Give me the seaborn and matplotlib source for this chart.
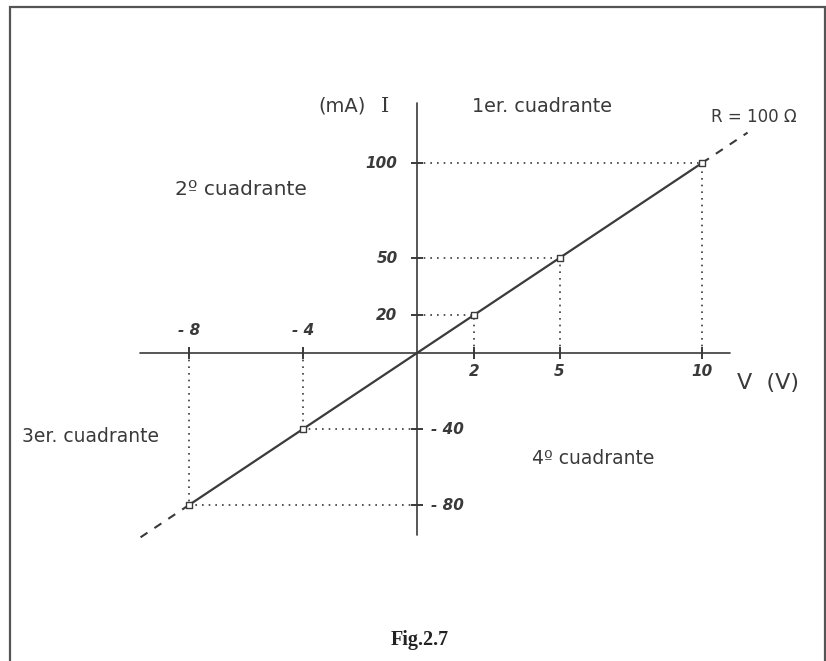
import numpy as np
import pandas as pd
import matplotlib
matplotlib.use("Agg")
import matplotlib.pyplot as plt
from matplotlib.patches import Rectangle
import seaborn as sns

# data: points on the V-I line for R = 100 ohm
volts = [-8, -4, 2, 5, 10]
milliamps = [-80, -40, 20, 50, 100]
# dashed extensions beyond the measured range
ext_low_v = [-9.7, -8]
ext_low_i = [-97, -80]
ext_high_v = [10, 11.6]
ext_high_i = [100, 116]

x_ticks = [-8, -4, 2, 5, 10]
x_labels = ["- 8", "- 4", "2", "5", "10"]
y_ticks = [100, 50, 20, -40, -80]
y_labels = ["100", "50", "20", "- 40", "- 80"]

df = pd.DataFrame({"V": volts, "I": milliamps})

sns.set_style("white")
plt.rcParams["font.family"] = ["DejaVu Sans"]

ink = "#3a3a3a"
fig = plt.figure(figsize=(8.26, 6.61), dpi=100)
ax = fig.add_axes([0, 0, 1, 1])
# pixel mapping: x = 417 + 28.5*V, y = 353 - 1.9*I
ax.set_xlim(-417 / 28.5, (826 - 417) / 28.5)
ax.set_ylim(-(661 - 353) / 1.9, 353 / 1.9)
ax.axis("off")

# axes
ax.plot([-9.72, 10.98], [0, 0], color=ink, lw=1.2)
ax.plot([0, 0], [-95.8, 131.6], color=ink, lw=1.2)

# dotted projections
for v, i in zip(volts, milliamps):
    ax.plot([v, v], [0, i], color=ink, lw=1.2, ls=(0, (1, 3)))
    ax.plot([0, v], [i, i], color=ink, lw=1.2, ls=(0, (1, 3)))

# tick marks
ax.plot(x_ticks, [0] * len(x_ticks), ls="none", marker="|", ms=9, mew=1.4, color=ink)
ax.plot([0] * len(y_ticks), y_ticks, ls="none", marker="_", ms=9, mew=1.4, color=ink)

# main line
sns.lineplot(data=df, x="V", y="I", ax=ax, color=ink, lw=1.6, sort=True)
ax.plot(ext_low_v, ext_low_i, color=ink, lw=1.5, ls=(0, (4, 4)))
ax.plot(ext_high_v, ext_high_i, color=ink, lw=1.5, ls=(0, (4, 4)))
sns.scatterplot(data=df, x="V", y="I", ax=ax, marker="s", s=22,
                facecolor="white", edgecolor=ink, linewidth=1.0, zorder=5)
ax.set_xlabel("")
ax.set_ylabel("")

# tick labels
tick_kw = dict(color=ink, fontsize=11, fontweight="bold", style="italic")
for v, lab in zip(x_ticks, x_labels):
    if v < 0:
        ax.annotate(lab, (v, 0), xytext=(0, 11), textcoords="offset points",
                    ha="center", va="bottom", **tick_kw)
    else:
        ax.annotate(lab, (v, 0), xytext=(0, -8), textcoords="offset points",
                    ha="center", va="top", **tick_kw)
for i, lab in zip(y_ticks, y_labels):
    if i > 0:
        ax.annotate(lab, (0, i), xytext=(-14, 0), textcoords="offset points",
                    ha="right", va="center", **tick_kw)
    else:
        ax.annotate(lab, (0, i), xytext=(10, 0), textcoords="offset points",
                    ha="left", va="center", **tick_kw)

# annotations (figure pixel positions)
W, H = 826, 661
def ftext(x, y, s, **kw):
    kw.setdefault("color", ink)
    fig.text(x / W, 1 - y / H, s, **kw)

ftext(342, 106, "(mA)", fontsize=14, ha="center", va="center")
ftext(385, 106, "I", fontsize=15, ha="center", va="center", family="DejaVu Serif")
ftext(472, 106, "1er. cuadrante", fontsize=13.8, ha="left", va="center")
ftext(754, 117, "R = 100 Ω", fontsize=12, ha="center", va="center")
ftext(175, 190, "2º cuadrante", fontsize=14.5, ha="left", va="center")
ftext(22, 437, "3er. cuadrante", fontsize=13.5, ha="left", va="center")
ftext(532, 459, "4º cuadrante", fontsize=13.5, ha="left", va="center")
ftext(768, 383, "V  (V)", fontsize=16, ha="center", va="center")
ftext(420, 640, "Fig.2.7", fontsize=14.5, ha="center", va="center",
      family="Liberation Serif", fontweight="bold", color="#222222")

# frame
fig.patches.append(Rectangle((10 / W, -0.02), 815 / W, 1.02 - 7 / H,
                             transform=fig.transFigure, fill=False,
                             edgecolor="#555555", lw=1.6))

fig.savefig("out.png", dpi=100, facecolor="white")
